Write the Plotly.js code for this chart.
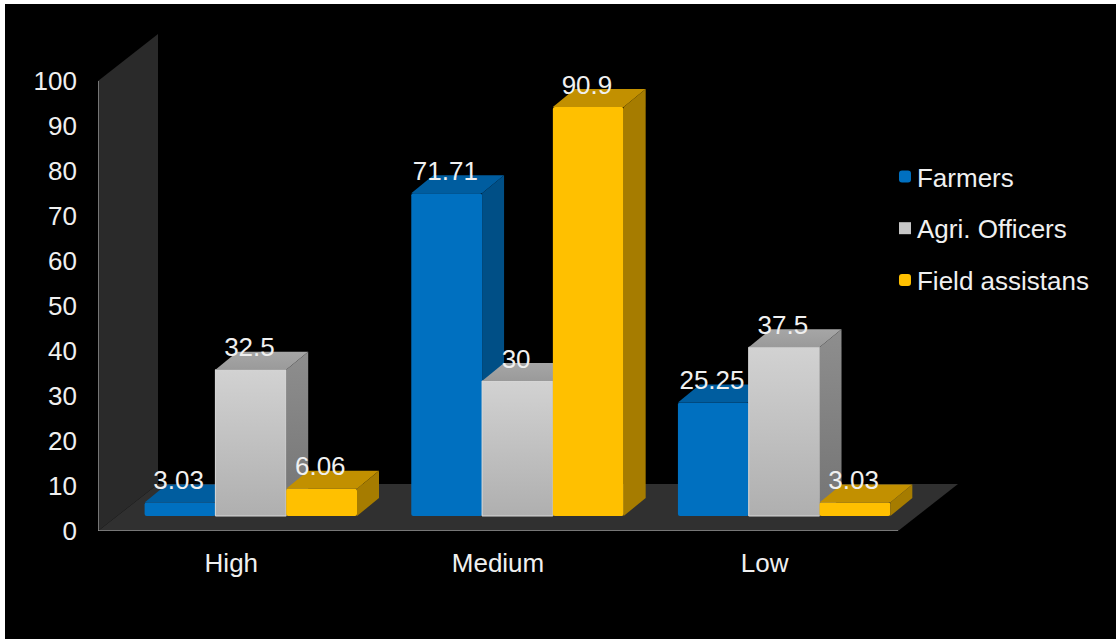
<!DOCTYPE html>
<html>
<head>
<meta charset="utf-8">
<script src="https://cdn.plot.ly/plotly-3.0.1.min.js"></script>
<style>
  html, body { margin: 0; padding: 0; background: #fff; overflow: hidden; }
  #chart { position: absolute; left: 5px; top: 4px; width: 1111px; height: 635px; }
</style>
</head>
<body>
<div id="chart"></div>
<script>
// Survey results by level and respondent group
const categories = ['High', 'Medium', 'Low'];
const farmers = [3.03, 71.71, 25.25];
const agriOfficers = [32.5, 30, 37.5];
const fieldAssistants = [6.06, 90.9, 3.03];
const yTicks = [0, 10, 20, 30, 40, 50, 60, 70, 80, 90, 100];

// Oblique projection used for the box depth, in axis units
const WALL_DX = 0.225, WALL_DY = 10.44;
const BAR_DX = 0.0825, BAR_DY = 4;
const BAR_WIDTH = 0.2655, GROUP_SHIFT = 0.073, BAR_BASE = 3.33;
const LABEL_LIFT = 4.4, LABEL_SHIFT = -0.005;

const FONT = 'Liberation Sans, Arial, sans-serif';
const TEXT = '#f0f0f0';
const TEXT_SIZE = 26;

const series = [
  { name: 'Farmers', values: farmers, front: '#0070c0', top: '#005d9f', side: '#004f86' },
  { name: 'Agri. Officers', values: agriOfficers, front: '#c6c6c6',
    frontGrad: ['#d2d2d2', '#afafaf'], topGrad: ['#a6a6a6', '#9a9a9a'], sideGrad: ['#8e8e8e', '#747474'], edge: '#d8d8d8' },
  { name: 'Field assistans', values: fieldAssistants, front: '#ffc000', top: '#c29000', side: '#a67c00' }
];

// Closed polygon drawn on the data axes, flat or with a vertical gradient
function face(xs, ys, zorder, color, grad, edge) {
  const t = {
    type: 'scatter', mode: 'lines', x: xs.concat(xs[0]), y: ys.concat(ys[0]),
    fill: 'toself', showlegend: false, hoverinfo: 'skip', zorder: zorder,
    line: { width: edge ? 1 : 0, color: edge || 'rgba(0,0,0,0)' }
  };
  if (grad) {
    t.fillgradient = { type: 'vertical', colorscale: [[0, grad[1]], [1, grad[0]]] };
  } else {
    t.fillcolor = color;
  }
  return t;
}

const xMin = -0.5, xMax = categories.length - 0.5, yMax = 100;
const traces = [];

// Side wall and floor of the chart box
traces.push(face([xMin, xMin, xMin + WALL_DX, xMin + WALL_DX], [0, yMax, yMax + WALL_DY, WALL_DY], 0, '#2a2a2a'));
traces.push(face([xMin, xMax, xMax + WALL_DX, xMin + WALL_DX], [0, 0, WALL_DY, WALL_DY], 0, '#303030'));

// Axis edges
traces.push({
  type: 'scatter', mode: 'lines', x: [xMin, xMin, xMax], y: [yMax, 0, 0],
  line: { color: '#8f8f8f', width: 1.5 }, cliponaxis: false,
  showlegend: false, hoverinfo: 'skip', zorder: 0
});

series.forEach(function (s, si) {
  const z = si + 1;
  const lefts = categories.map(function (_, i) {
    return i + GROUP_SHIFT + (si - 1) * BAR_WIDTH - BAR_WIDTH / 2;
  });

  // Front faces
  traces.push({
    type: 'bar', name: s.name, x: lefts.map(function (l) { return l + BAR_WIDTH / 2; }),
    y: s.values, base: BAR_BASE, width: BAR_WIDTH, zorder: z,
    legendgroup: s.name,
    marker: { color: s.front, cornerradius: s.frontGrad ? 0 : 2, line: { width: 0 } },
    hovertemplate: s.name + ': %{y}<extra></extra>'
  });

  // Depth faces and shading
  s.values.forEach(function (v, i) {
    const x0 = lefts[i], x1 = x0 + BAR_WIDTH, b = BAR_BASE, t = BAR_BASE + v;
    if (s.frontGrad) {
      traces.push(face([x0, x1, x1, x0], [b, b, t, t], z, null, s.frontGrad, s.edge));
    }
    traces.push(face([x0, x1, x1 + BAR_DX, x0 + BAR_DX], [t, t, t + BAR_DY, t + BAR_DY], z, s.top, s.topGrad));
    traces.push(face([x1, x1, x1 + BAR_DX, x1 + BAR_DX], [b, t, t + BAR_DY, b + BAR_DY], z, s.side, s.sideGrad));
  });
});

// Value labels stay above every bar
series.forEach(function (s, si) {
  traces.push({
    type: 'scatter', mode: 'text',
    x: categories.map(function (_, i) { return i + GROUP_SHIFT + LABEL_SHIFT + (si - 1) * BAR_WIDTH; }),
    y: s.values.map(function (v) { return BAR_BASE + v + LABEL_LIFT; }),
    text: s.values.map(String), textposition: 'middle center',
    textfont: { family: FONT, size: TEXT_SIZE, color: TEXT },
    showlegend: false, hoverinfo: 'skip', zorder: 10
  });
});

const layout = {
  width: 1111, height: 635,
  paper_bgcolor: '#000', plot_bgcolor: 'rgba(0,0,0,0)',
  margin: { l: 93, r: 158, t: 30, b: 108, pad: 0 },
  showlegend: true,
  barmode: 'overlay',
  xaxis: {
    range: [xMin, xMax + WALL_DX], tickmode: 'array',
    tickvals: categories.map(function (_, i) { return i; }), ticktext: categories,
    showgrid: false, zeroline: false, showline: false, ticks: '',
    ticklabelstandoff: 14,
    tickfont: { family: FONT, size: TEXT_SIZE, color: TEXT }, fixedrange: true
  },
  yaxis: {
    range: [0, yMax + WALL_DY], tickmode: 'array', tickvals: yTicks,
    showgrid: false, zeroline: false, showline: false, ticks: '',
    ticklabelstandoff: 20,
    tickfont: { family: FONT, size: TEXT_SIZE, color: TEXT }, fixedrange: true
  },
  legend: {
    x: 0.9058, xanchor: 'left', y: 0.7606, yanchor: 'top',
    bgcolor: 'rgba(0,0,0,0)', borderwidth: 0,
    font: { family: FONT, size: TEXT_SIZE, color: TEXT },
    traceorder: 'grouped', tracegroupgap: 15, itemclick: false, itemdoubleclick: false
  }
};

Plotly.newPlot('chart', traces, layout, { displayModeBar: false }).then(function () {
  // Square legend keys sitting close to their labels
  document.querySelectorAll('#chart .legendsymbols').forEach(function (g) {
    g.setAttribute('transform', 'translate(8,0)');
  });
  document.querySelectorAll('#chart path.legendbar').forEach(function (p) {
    p.setAttribute('d', 'M7,7H-7V-7H7Z');
  });
});
</script>
</body>
</html>
